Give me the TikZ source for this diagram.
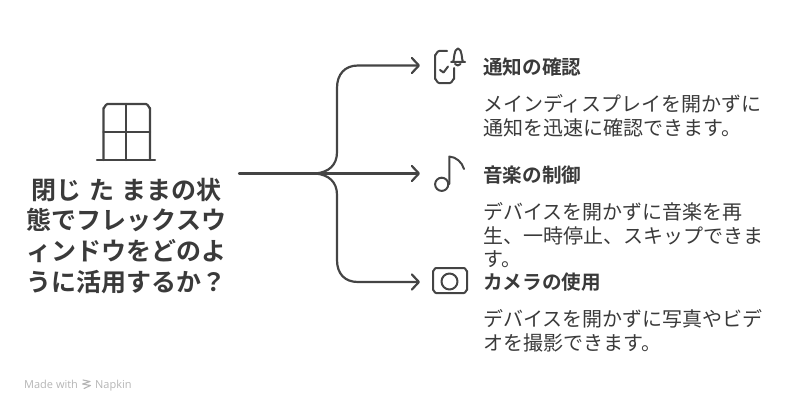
\documentclass[tikz,border=0pt]{standalone}
\usepackage{fontspec}
\setmainfont{Noto Sans CJK JP}
\newfontfamily\cjkb{Noto Sans CJK JP Bold}
\newfontfamily\footf{Open Sans}
\usetikzlibrary{arrows.meta}
\definecolor{ink}{HTML}{444444}
\definecolor{txt}{HTML}{3A3A3A}
\definecolor{foot}{HTML}{B5B5B5}
\tikzset{
 conn/.style={draw=ink,line width=2.2pt,line cap=round,line join=round},
 tip/.style={conn,-{Straight Barb[length=7pt,width=15pt,line width=2.2pt,round]}},
 icon/.style={draw=ink,line width=2pt,line cap=round,line join=round},
 titleline/.style={anchor=base,inner sep=0pt,text=txt,font=\cjkb\fontsize{25}{25}\selectfont},
 headline/.style={anchor=base west,inner sep=0pt,text=txt,font=\cjkb\fontsize{19.6}{19.6}\selectfont},
 bodyline/.style={anchor=base west,inner sep=0pt,text=txt,font=\fontsize{20}{20}\selectfont},
 footer/.style={anchor=base west,inner sep=0pt,text=foot,font=\footf\fontsize{11}{11}\selectfont},
}
\begin{document}
\begin{tikzpicture}[x=1pt,y=-1pt]
\useasboundingbox (0,0) rectangle (792,412);
% window icon
\draw[icon,line width=2.2pt] (103.5,160) -- (103.5,108) to[out=-90,in=180] (107.5,104) -- (146,104) to[out=0,in=-90] (150,108) -- (150,160);
\draw[icon,line width=2.2pt] (126,104) -- (126,160) (103.5,132) -- (150,132) (97,160) -- (155,160);
% title
\node[titleline] (t1) at (126.5,199) {閉じ\hspace{2pt} た\hspace{2pt} ままの状};
\node[titleline] (t2) at (126.5,229.5) {態でフレックスウ};
\node[titleline] (t3) at (126.5,260.5) {ィンドウをどのよ};
\node[titleline] (t4) at (126.5,291.5) {うに活用するか？};
% connectors
\coordinate (src) at (239,173.5);
\coordinate (hub) at (316,173.5);
\coordinate (a1) at (420,65.5);
\coordinate (a2) at (420,173.5);
\coordinate (a3) at (420,282);
\draw[conn] (src) -- (hub);
\draw[tip] (hub) -- (a2);
\draw[tip] (hub) .. controls (329,172) and (337,165) .. (337,152) -- (337,88) .. controls (337,74) and (345,65.5) .. (358,65.5) -- (a1);
\draw[tip] (hub) .. controls (329,175) and (337,182) .. (337,195) -- (337,260) .. controls (337,274) and (345,282) .. (358,282) -- (a3);
% bell phone icon
\draw[icon] (447,51) -- (439,51) to[out=180,in=-90] (435,55) -- (435,79) to[out=90,in=180] (439,83) -- (450,83) to[out=0,in=90] (454,79) -- (454,68);
\draw[icon] (440,70) -- (443.5,72.5) -- (448,66.5);
\draw[icon] (451,62) -- (465,62) (453,62) .. controls (454.5,60) and (453.5,49) .. (458,48.5) .. controls (462.5,49) and (461.5,60) .. (463,62);
\draw[icon] (455,64) .. controls (456,66) and (459.5,66) .. (460.5,64);
% music icon
\draw[icon] (441.7,184.3) circle[radius=6.6];
\draw[icon] (449.3,184) -- (449.3,156.5) .. controls (456,157) and (462,162) .. (464,169);
% camera icon
\draw[icon] (436,268) -- (464,268) to[out=0,in=-90] (467,271) -- (467,290) to[out=90,in=0] (464,293) -- (436,293) to[out=180,in=90] (433,290) -- (433,271) to[out=-90,in=180] (436,268) -- cycle;
\draw[icon] (449.5,281.5) circle[radius=8];
% texts
\node[headline] (h1) at (483,74.5) {通知の確認};
\node[bodyline] (b11) at (483,111.5) {メインディスプレイを開かずに};
\node[bodyline] (b12) at (483,135) {通知を迅速に確認できます。};
\node[headline] (h2) at (483,182.5) {音楽の制御};
\node[bodyline] (b21) at (483,219) {デバイスを開かずに音楽を再};
\node[bodyline] (b22) at (483,243) {生、一時停止、スキップできま};
\node[bodyline] (b23) at (483,266) {す。};
\node[headline] (h3) at (483,289.5) {カメラの使用};
\node[bodyline] (b31) at (483,326) {デバイスを開かずに写真やビデ};
\node[bodyline] (b32) at (483,350) {オを撮影できます。};
% footer
\node[footer] (f1) at (24,388) {Made with};
\draw[draw=foot,line width=1.1pt,line cap=round,line join=round] (83,380) -- (90,381.5) -- (82.5,384) -- (90.5,385.5) -- (84,388.5);
\node[footer] (f2) at (95,388) {Napkin};
\end{tikzpicture}
\end{document}
